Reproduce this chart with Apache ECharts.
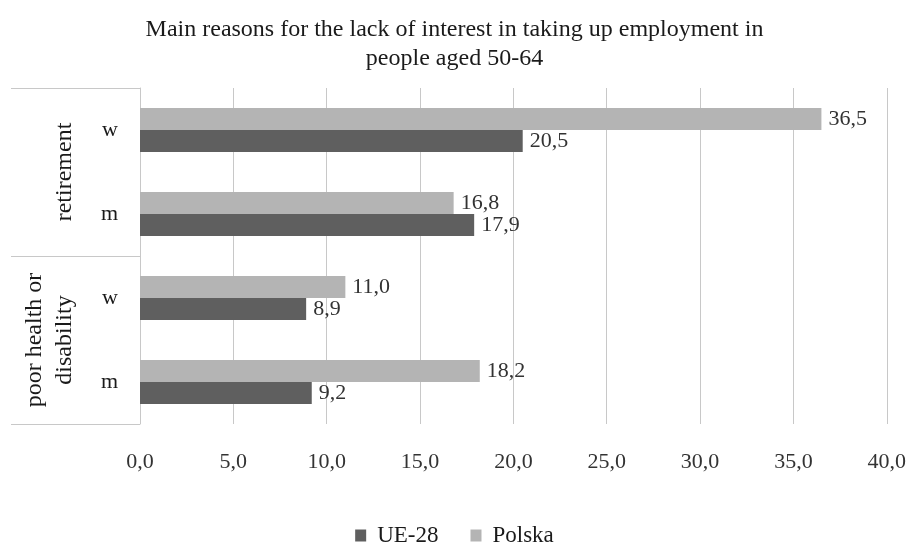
<!DOCTYPE html>
<html>
<head>
<meta charset="utf-8">
<script src="https://cdn.jsdelivr.net/npm/echarts@6/dist/echarts.min.js"></script>
<style>
  html, body { margin: 0; padding: 0; background: #fff; }
  #chart { width: 909px; height: 548px; }
</style>
</head>
<body>
<div id="chart"></div>
<script>
// Rows from bottom to top: sex within each reason group
const rowIds = ['health-m', 'health-w', 'retirement-m', 'retirement-w'];
const rowLabels = ['m', 'w', 'm', 'w'];
// Reason groups, bottom to top
const groups = ['poor health or\ndisability', 'retirement'];

const ue28 = [9.2, 8.9, 17.9, 20.5];
const polska = [18.2, 11.0, 16.8, 36.5];

const xTicks = { min: 0, max: 40, interval: 5 };

const FONT = '"Liberation Serif", "Times New Roman", serif';
const LINE = '#c8c8c8';
const TEXT = '#1a1a1a';
const fmt = v => Number(v).toFixed(1).replace('.', ',');

const valueLabel = {
  show: true, position: 'right', distance: 7,
  formatter: p => fmt(p.value),
  fontFamily: FONT, fontSize: 22, color: '#333'
};

const chart = echarts.init(document.getElementById('chart'));
chart.setOption({
  animation: false,
  textStyle: { fontFamily: FONT },
  title: {
    text: 'Main reasons for the lack of interest in taking up employment in\npeople aged 50-64',
    left: 'center',
    top: 10,
    textStyle: { fontFamily: FONT, fontSize: 24, fontWeight: 'normal', color: TEXT, lineHeight: 29 }
  },
  legend: {
    top: 519,
    left: 'center',
    itemWidth: 11,
    itemHeight: 12,
    itemGap: 32,
    icon: 'rect',
    textStyle: { fontFamily: FONT, fontSize: 23, color: TEXT, padding: [0, 0, 0, 6] },
    data: ['UE-28', 'Polska']
  },
  grid: { left: 140, right: 22, top: 88, bottom: 124, containLabel: false },
  xAxis: {
    type: 'value',
    min: xTicks.min,
    max: xTicks.max,
    interval: xTicks.interval,
    axisLine: { show: false },
    axisTick: { show: false },
    splitLine: { show: true, lineStyle: { color: LINE, width: 1 } },
    axisLabel: { formatter: fmt, fontFamily: FONT, fontSize: 22, color: '#333', margin: 27 }
  },
  yAxis: [
    {
      type: 'category',
      data: rowIds,
      axisLine: { show: false },
      axisTick: { show: false },
      axisLabel: {
        interval: 0,
        formatter: (v, i) => rowLabels[i],
        fontFamily: FONT, fontSize: 22, color: TEXT, margin: 22
      }
    },
    {
      // Group labels with separator lines drawn as long ticks
      type: 'category',
      data: groups,
      position: 'left',
      axisLine: { show: true, lineStyle: { color: LINE, width: 1 } },
      axisTick: { show: true, interval: 0, length: 129, lineStyle: { color: LINE, width: 1 } },
      axisLabel: {
        interval: 0,
        hideOverlap: false,
        rotate: 90,
        fontFamily: FONT, fontSize: 24, color: TEXT,
        lineHeight: 30, margin: 60, align: 'center'
      }
    }
  ],
  // Polska listed first so its bar sits above UE-28 in each row
  series: [
    {
      name: 'Polska',
      type: 'bar',
      yAxisIndex: 0,
      data: polska,
      barWidth: 22,
      barGap: '0%',
      itemStyle: { color: '#b4b4b4' },
      label: valueLabel
    },
    {
      name: 'UE-28',
      type: 'bar',
      yAxisIndex: 0,
      data: ue28,
      barWidth: 22,
      barGap: '0%',
      itemStyle: { color: '#5f5f5f' },
      label: valueLabel
    }
  ]
});
</script>
</body>
</html>
